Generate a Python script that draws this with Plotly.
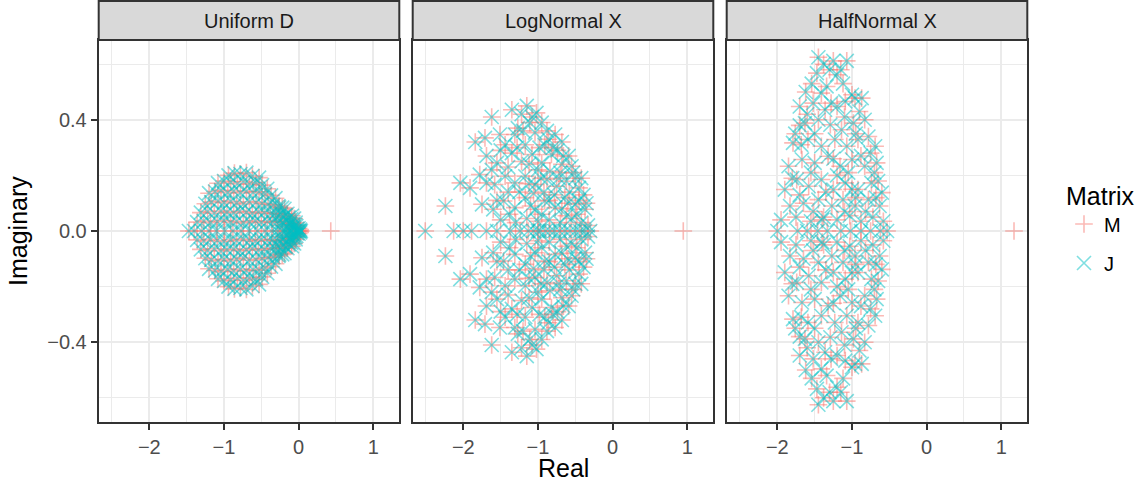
import plotly.graph_objects as go

# ---------------- data (eigenvalues) ----------------
PANELS = ["Uniform D", "LogNormal X", "HalfNormal X"]
SERIES = ["M", "J"]

# complex eigenvalues with positive imaginary part (their conjugates are also eigenvalues)
UNIFORM_UPPER = [
    (-0.94, 0.200), (-0.86, 0.208), (-0.78, 0.205), (-0.70, 0.210), (-0.62, 0.198), (-0.53, 0.192),
    (-1.08, 0.172), (-1.00, 0.180), (-0.91, 0.176), (-0.82, 0.170), (-0.74, 0.178), (-0.66, 0.168),
    (-0.57, 0.174), (-0.49, 0.165), (-0.42, 0.152),
    (-1.20, 0.136), (-1.12, 0.142), (-1.04, 0.146), (-0.95, 0.138), (-0.87, 0.144), (-0.78, 0.137),
    (-0.70, 0.143), (-0.61, 0.139), (-0.53, 0.141), (-0.45, 0.133), (-0.37, 0.128), (-0.31, 0.118),
    (-1.25, 0.098), (-1.17, 0.104), (-1.08, 0.108), (-1.00, 0.102), (-0.91, 0.107), (-0.83, 0.101),
    (-0.74, 0.097), (-0.66, 0.105), (-0.57, 0.103), (-0.49, 0.099), (-0.41, 0.096), (-0.34, 0.094),
    (-0.27, 0.090), (-0.22, 0.084),
    (-1.31, 0.066), (-1.22, 0.070), (-1.13, 0.064), (-1.04, 0.072), (-0.96, 0.068), (-0.87, 0.065),
    (-0.79, 0.071), (-0.70, 0.067), (-0.62, 0.063), (-0.54, 0.069), (-0.46, 0.066), (-0.38, 0.062),
    (-0.31, 0.064), (-0.24, 0.060), (-0.18, 0.056), (-0.13, 0.048),
    (-1.36, 0.032), (-1.27, 0.036), (-1.18, 0.030), (-1.09, 0.034), (-1.00, 0.038), (-0.91, 0.031),
    (-0.83, 0.035), (-0.74, 0.029), (-0.66, 0.033), (-0.58, 0.037), (-0.50, 0.030), (-0.42, 0.034),
    (-0.35, 0.032), (-0.28, 0.036), (-0.22, 0.031), (-0.17, 0.035), (-0.12, 0.028), (-0.08, 0.024),
    (-0.05, 0.020),
    (-0.30, 0.050), (-0.25, 0.020), (-0.20, 0.052), (-0.15, 0.015), (-0.10, 0.042), (-0.07, 0.014),
    (-0.04, 0.030), (-0.02, 0.008), (-0.26, 0.085), (-0.19, 0.080), (-0.15, 0.062), (-0.11, 0.025),
    (-0.09, 0.055), (-0.06, 0.045), (-0.03, 0.018), (0.00, 0.010), (0.02, 0.005),
]
UNIFORM_REAL = [-1.47, -1.40, -1.30, -1.20, -1.10, -0.99, -0.88, -0.77, -0.66, -0.55, -0.45,
                -0.36, -0.28, -0.22, -0.17, -0.13, -0.10, -0.07, -0.05, -0.03, -0.015, 0.0,
                0.015, 0.03]

LOGNORMAL_UPPER = [
    (-1.15, 0.450), (-1.62, 0.410), (-1.35, 0.436), (-1.22, 0.420), (-1.02, 0.425), (-1.11, 0.390),
    (-0.95, 0.390), (-0.77, 0.347), (-0.68, 0.320),
    (-1.84, 0.320), (-1.71, 0.335), (-1.51, 0.347), (-1.44, 0.310), (-1.31, 0.347), (-1.17, 0.310),
    (-1.04, 0.354), (-0.91, 0.310), (-0.59, 0.270),
    (-1.69, 0.270), (-1.55, 0.245), (-1.35, 0.280), (-1.22, 0.250), (-1.08, 0.275), (-0.95, 0.245),
    (-0.82, 0.275), (-0.68, 0.240), (-0.55, 0.233),
    (-2.04, 0.173), (-1.91, 0.155), (-1.78, 0.203), (-1.69, 0.173), (-1.58, 0.167), (-1.44, 0.197),
    (-1.31, 0.173), (-1.17, 0.197), (-1.04, 0.167), (-0.88, 0.185), (-0.75, 0.161), (-0.62, 0.179),
    (-0.50, 0.190),
    (-2.24, 0.090), (-1.75, 0.096), (-1.60, 0.078), (-1.46, 0.108), (-1.31, 0.084), (-1.17, 0.120),
    (-1.04, 0.078), (-0.91, 0.108), (-0.77, 0.084), (-0.64, 0.120), (-0.50, 0.096), (-0.39, 0.130),
    (-0.37, 0.078),
    (-1.50, 0.040), (-1.30, 0.030), (-1.15, 0.045), (-1.00, 0.035), (-0.85, 0.040), (-0.70, 0.030),
    (-0.55, 0.045), (-0.42, 0.030), (-0.33, 0.020),
    (-0.62, 0.055), (-0.48, 0.060), (-0.78, 0.130), (-0.92, 0.140), (-1.06, 0.135), (-0.45, 0.155),
    (-0.58, 0.140), (-0.70, 0.210), (-0.84, 0.215), (-1.00, 0.220), (-1.12, 0.240), (-0.74, 0.290),
    (-0.86, 0.330), (-0.98, 0.300), (-1.27, 0.370), (-1.40, 0.230), (-1.25, 0.140), (-1.38, 0.060),
    (-0.60, 0.100), (-0.45, 0.110),
    (-1.28, 0.300), (-1.20, 0.360), (-1.08, 0.410), (-0.88, 0.360), (-0.80, 0.300), (-0.66, 0.270),
    (-0.72, 0.190), (-0.96, 0.190), (-1.12, 0.170), (-1.40, 0.140), (-1.55, 0.110), (-1.62, 0.220),
    (-1.50, 0.290), (-0.53, 0.210), (-0.42, 0.190), (-0.35, 0.100), (-0.85, 0.110), (-1.10, 0.090),
    (-0.68, 0.080), (-0.95, 0.060),
]
LOGNORMAL_REAL = [-2.51, -2.13, -2.00, -1.89, -1.69, -1.55, -1.37, -1.24, -1.13, -1.06, -1.00,
                  -0.97, -0.90, -0.84, -0.78, -0.71, -0.64, -0.57, -0.50, -0.44, -0.37, -0.30]

HALFNORMAL_UPPER = [
    (-1.45, 0.625), (-1.25, 0.612), (-1.07, 0.612), (-1.47, 0.568), (-1.20, 0.562), (-1.54, 0.530),
    (-1.34, 0.520), (-1.12, 0.530), (-1.41, 0.496), (-1.00, 0.490), (-0.87, 0.478),
    (-1.70, 0.448), (-1.52, 0.460), (-1.36, 0.436), (-1.20, 0.448), (-1.09, 0.466), (-0.96, 0.478),
    (-1.76, 0.350), (-1.63, 0.388), (-1.45, 0.400), (-1.29, 0.382), (-1.14, 0.364), (-0.98, 0.388),
    (-0.83, 0.400), (-0.78, 0.340),
    (-1.79, 0.317), (-1.59, 0.329), (-1.41, 0.305), (-1.23, 0.329), (-1.07, 0.305), (-0.92, 0.329),
    (-0.69, 0.305),
    (-1.85, 0.233), (-1.67, 0.257), (-1.50, 0.245), (-1.32, 0.269), (-1.16, 0.233), (-1.00, 0.257),
    (-0.83, 0.233), (-0.67, 0.245),
    (-1.90, 0.149), (-1.74, 0.185), (-1.58, 0.161), (-1.41, 0.185), (-1.25, 0.149), (-1.09, 0.173),
    (-0.92, 0.149), (-0.74, 0.173), (-0.60, 0.138),
    (-1.83, 0.090), (-1.65, 0.100), (-1.45, 0.113), (-1.27, 0.090), (-1.12, 0.113), (-0.96, 0.090),
    (-0.78, 0.113), (-0.63, 0.090),
    (-1.95, 0.040), (-1.75, 0.050), (-1.55, 0.035), (-1.38, 0.050), (-1.20, 0.040), (-1.03, 0.055),
    (-0.88, 0.035), (-0.72, 0.050), (-0.58, 0.035),
    (-1.62, 0.500), (-1.30, 0.580), (-0.90, 0.430), (-1.55, 0.210), (-1.20, 0.200), (-0.88, 0.270),
    (-1.68, 0.310), (-1.00, 0.150), (-1.35, 0.140), (-0.70, 0.210), (-1.52, 0.070), (-1.10, 0.070),
    (-0.82, 0.070), (-1.28, 0.460), (-1.60, 0.420),
    (-1.38, 0.600), (-1.15, 0.580), (-1.70, 0.380), (-0.95, 0.350), (-1.50, 0.350), (-1.25, 0.260),
    (-0.75, 0.280), (-1.80, 0.190), (-1.05, 0.210), (-0.65, 0.180), (-1.70, 0.130), (-1.40, 0.040),
    (-0.95, 0.120), (-0.68, 0.120), (-1.10, 0.410),
]
HALFNORMAL_REAL = [-2.00, -1.73, -1.60, -1.46, -1.33, -1.15, -1.02, -0.88, -0.75, -0.62, -0.53]

# dominant (real) eigenvalue of M, absent from J
M_OUTLIER = [0.43, 0.946, 1.17]

UPPER = [UNIFORM_UPPER, LOGNORMAL_UPPER, HALFNORMAL_UPPER]
REAL = [UNIFORM_REAL, LOGNORMAL_REAL, HALFNORMAL_REAL]

X_TICKS = [-2, -1, 0, 1]
X_TICKTEXT = ["\u22122", "\u22121", "0", "1"]
Y_TICKS = [-0.4, 0.0, 0.4]
Y_TICKTEXT = ["\u22120.4", "0.0", "0.4"]

# ---------------- style ----------------
W, H = 1144, 489
FONT = "Liberation Sans, Arial, Helvetica, sans-serif"
COLORS = {"M": "rgba(248,118,109,0.5)", "J": "rgba(0,191,196,0.5)"}
SYMBOLS = {"M": "cross-thin", "J": "x-thin"}
SIZES = {"M": 12.6, "J": 14}
PANEL_X = [(98.7, 399.3), (412.7, 713.3), (726.7, 1027.3)]
PANEL_TOP, PANEL_BOT = 40, 422
STRIP_TOP = 1
GRID = "#EBEBEB"
BORDER = "#333333"


def eig_points(i, series):
    up = UPPER[i]
    re = [p[0] for p in up] + [p[0] for p in up] + list(REAL[i])
    im = [p[1] for p in up] + [-p[1] for p in up] + [0.0] * len(REAL[i])
    if series == "M":
        re = re + [M_OUTLIER[i]]
        im = im + [0.0]
    return re, im


fig = go.Figure()
for s in SERIES:
    for i in range(3):
        re, im = eig_points(i, s)
        suffix = "" if i == 0 else str(i + 1)
        fig.add_trace(go.Scatter(
            x=re, y=im, mode="markers", name=s, legendgroup=s,
            showlegend=(i == 0), xaxis="x" + suffix, yaxis="y" + suffix,
            marker=dict(symbol=SYMBOLS[s], size=SIZES[s], color=COLORS[s],
                        line=dict(width=1.6, color=COLORS[s])),
            hoverinfo="x+y",
        ))

layout = dict(
    width=W, height=H, autosize=False,
    margin=dict(l=0, r=0, t=0, b=0, pad=0),
    paper_bgcolor="white", plot_bgcolor="white",
    font=dict(family=FONT, size=20, color="#4D4D4D"),
    showlegend=True,
    legend=dict(
        title=dict(text="Matrix", font=dict(size=25, color="black")),
        font=dict(size=20, color="black"),
        x=1064 / W, xanchor="left", y=1 - 172 / H, yanchor="top",
        tracegroupgap=10, traceorder="grouped", bgcolor="rgba(0,0,0,0)",
    ),
)

ydom = [1 - PANEL_BOT / H, 1 - PANEL_TOP / H]
shapes, annotations = [], []
for i in range(3):
    suffix = "" if i == 0 else str(i + 1)
    x0, x1 = PANEL_X[i]
    layout["xaxis" + suffix] = dict(
        domain=[x0 / W, x1 / W], anchor="y" + suffix, range=[-2.678, 1.348],
        tickmode="array", tickvals=X_TICKS, ticktext=X_TICKTEXT,
        ticks="outside", ticklen=6, tickwidth=2, tickcolor=BORDER,
        showgrid=True, gridcolor=GRID, gridwidth=2.4, zeroline=False,
        showline=True, linecolor=BORDER, linewidth=2, mirror=True,
        minor=dict(tickmode="array", tickvals=[-2.5, -1.5, -0.5, 0.5], showgrid=True,
                   gridcolor=GRID, gridwidth=1.2, ticks=""),
        tickfont=dict(size=20, color="#4D4D4D"), fixedrange=True,
    )
    layout["yaxis" + suffix] = dict(
        domain=ydom, anchor="x" + suffix, range=[-0.687, 0.687],
        tickmode="array", tickvals=Y_TICKS, ticktext=Y_TICKTEXT,
        ticks="outside" if i == 0 else "", ticklen=6, tickwidth=2, tickcolor=BORDER,
        showticklabels=(i == 0),
        showgrid=True, gridcolor=GRID, gridwidth=2.4, zeroline=False,
        showline=True, linecolor=BORDER, linewidth=2, mirror=True,
        minor=dict(tickmode="array", tickvals=[-0.6, -0.2, 0.2, 0.6], showgrid=True,
                   gridcolor=GRID, gridwidth=1.2, ticks=""),
        tickfont=dict(size=20, color="#4D4D4D"), fixedrange=True,
    )
    # facet strip
    shapes.append(dict(type="rect", xref="paper", yref="paper",
                       x0=x0 / W, x1=x1 / W, y0=1 - PANEL_TOP / H, y1=1 - STRIP_TOP / H,
                       fillcolor="#D9D9D9", line=dict(color=BORDER, width=2), layer="above"))
    annotations.append(dict(text=PANELS[i], xref="paper", yref="paper",
                            x=(x0 + x1) / 2 / W, y=1 - (PANEL_TOP + STRIP_TOP) / 2 / H,
                            xanchor="center", yanchor="middle", showarrow=False,
                            font=dict(size=20, color="#1A1A1A")))

annotations.append(dict(text="Real", xref="paper", yref="paper",
                        x=(PANEL_X[1][0] + PANEL_X[1][1]) / 2 / W, y=1 - 468 / H,
                        xanchor="center", yanchor="middle", showarrow=False,
                        font=dict(size=25, color="black")))
annotations.append(dict(text="Imaginary", xref="paper", yref="paper",
                        x=18 / W, y=1 - 231 / H, textangle=-90,
                        xanchor="center", yanchor="middle", showarrow=False,
                        font=dict(size=25, color="black")))

layout["shapes"] = shapes
layout["annotations"] = annotations
fig.update_layout(**layout)
fig.write_html("out.html", config={"displayModeBar": False},
               post_script="document.body.style.margin='0';document.body.style.overflow='hidden';")
